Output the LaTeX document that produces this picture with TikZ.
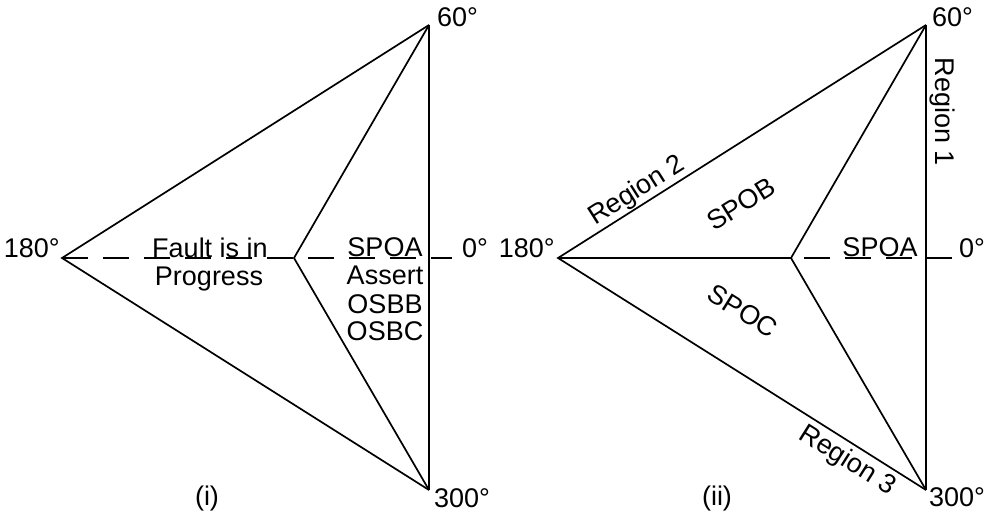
\documentclass[tikz,border=0pt]{standalone}
\usepackage{fontspec}
\setmainfont{Liberation Sans}
\begin{document}
\begin{tikzpicture}[x=1pt,y=-1pt,
  edge/.style={line width=1.7pt, line join=miter},
  dashline/.style={line width=1.7pt, dash pattern=on 26pt off 15pt},
  lbl/.style={font=\fontsize{27}{30}\selectfont, inner sep=0pt}]
\useasboundingbox (0,0) rectangle (985,519);

% ---------- (i) ----------
\coordinate (A1) at (62,258);
\coordinate (T1) at (429,25);
\coordinate (B1) at (429,490);
\coordinate (C1) at (294,258);
\coordinate (E1) at (452,258);
\draw[edge] (T1) -- (A1) -- (B1);
\draw[edge] (T1) -- (C1) -- (B1);
\draw[edge] (T1) -- (B1);
\draw[dashline] (A1) -- (E1);

\node[lbl, anchor=base east] (l180a) at (60,257) {180°};
\node[lbl, anchor=base west] (l60a) at (437,27) {60°};
\node[lbl, anchor=base west] (l300a) at (434,507) {300°};
\node[lbl, anchor=base west] (l0a) at (462,257) {0°};
\node[lbl, anchor=base] (fault) at (210,257) {Fault is in};
\node[lbl, anchor=base] (prog) at (209,285) {Progress};
\node[lbl, anchor=base] (spoa1) at (385,256) {SPOA};
\node[lbl, anchor=base] (assert) at (385,284) {Assert};
\node[lbl, anchor=base] (osbb) at (385,313) {OSBB};
\node[lbl, anchor=base] (osbc) at (385,340) {OSBC};
\node[lbl, anchor=base] (capi) at (207,505) {(i)};

% ---------- (ii) ----------
\coordinate (A2) at (558,258);
\coordinate (T2) at (926,25);
\coordinate (B2) at (926,490);
\coordinate (C2) at (791,258);
\coordinate (E2) at (952,258);
\draw[edge] (T2) -- (A2) -- (B2);
\draw[edge] (T2) -- (C2) -- (B2);
\draw[edge] (T2) -- (B2);
\draw[edge] (A2) -- (C2);
\draw[dashline, dash phase=28pt] (C2) -- (E2);

\node[lbl, anchor=base east] (l180b) at (555,257) {180°};
\node[lbl, anchor=base west] (l60b) at (932,27) {60°};
\node[lbl, anchor=base west] (l300b) at (929,506) {300°};
\node[lbl, anchor=base west] (l0b) at (959,257) {0°};
\node[lbl, anchor=base] (spoa2) at (880,256) {SPOA};
\node[lbl, rotate=-90] (reg1) at (942,112) {Region 1};
\node[lbl, rotate=32.3] (reg2) at (637,191) {Region 2};
\node[lbl, rotate=-32.3] (reg3) at (847,461) {Region 3};
\node[lbl, rotate=32] (spob) at (741,204) {SPOB};
\node[lbl, rotate=-32] (spoc) at (743,311) {SPOC};
\node[lbl, anchor=base] (capii) at (717,505) {(ii)};
\end{tikzpicture}
\end{document}
